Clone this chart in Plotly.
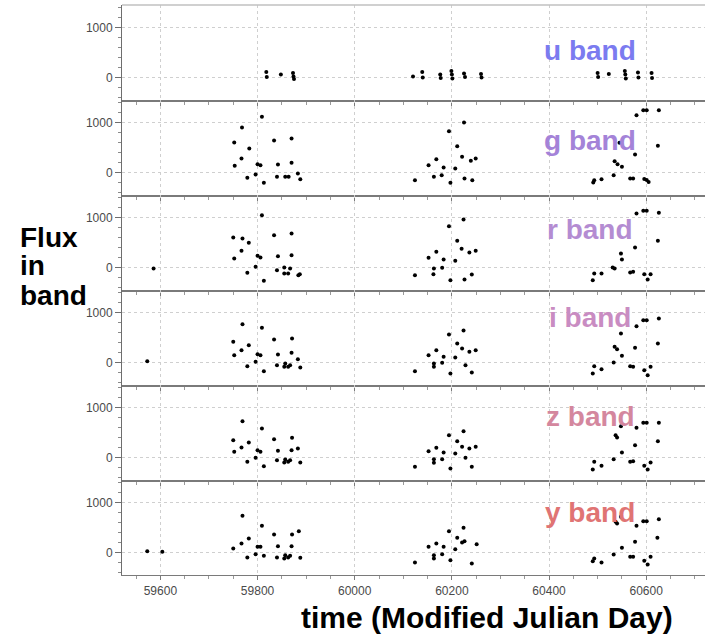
import plotly.graph_objects as go
from plotly.subplots import make_subplots

# Light-curve samples per LSST band: observation time (MJD) and flux
bands = ["u", "g", "r", "i", "z", "y"]
band_colors = ["#7b7bf0", "#a483d8", "#b48cd2", "#c98cc2", "#d4879e", "#e07474"]

u_mjd = [59818, 59819, 59848, 59873, 59874, 59875, 60120, 60139, 60140, 60176,
         60177, 60199, 60200, 60201, 60225, 60227, 60260, 60261, 60500, 60501,
         60523, 60556, 60557, 60558, 60583, 60584, 60611, 60612]
u_flux = [110, 10, 60, 90, 20, -30, 20, 110, 0, 60,
          -10, 130, 60, -20, 80, 10, 70, 0, 90, 10,
          70, 130, 60, -20, 100, 0, 90, -10]

g_mjd = [59752, 59768, 59783, 59767, 59753, 59779, 59796, 59800, 59806, 59809,
         59813, 59834, 59840, 59842, 59857, 59864, 59870, 59870, 59883, 59888,
         60124, 60152, 60163, 60168, 60179, 60183, 60194, 60197, 60207, 60211,
         60221, 60225, 60226, 60239, 60242, 60249,
         60491, 60493, 60508, 60533, 60535, 60541, 60550, 60545, 60567, 60573,
         60577, 60580, 60594, 60601, 60596, 60601, 60605, 60624, 60626]
g_flux = [600, 900, 480, 280, 133, -107, -40, 167, 147, 1113,
          -207, 640, -87, 160, -87, -87, 680, 193, -20, -133,
          -153, 147, -87, 267, -53, 100, 827, -207, 80, 527,
          313, 1000, -120, 233, -153, 280,
          -200, -153, -133, -53, 227, 167, 113, 593, -120, -120,
          360, 1147, 1247, 1247, -130, -150, -190, 533, 1247]

r_mjd = [59586,
         59750, 59769, 59782, 59767, 59752, 59779, 59796, 59800, 59806, 59809,
         59813, 59834, 59840, 59842, 59855, 59855, 59863, 59867, 59870, 59870,
         59884, 59887,
         60124, 60152, 60163, 60162, 60168, 60180, 60183, 60194, 60197, 60207,
         60211, 60220, 60224, 60226, 60236, 60241, 60249,
         60490, 60493, 60508, 60531, 60535, 60548, 60550, 60567, 60573, 60577,
         60580, 60594, 60601, 60596, 60603, 60609, 60624, 60626]
r_flux = [-20,
          600, 580, 493, 333, 180, -107, 13, 233, 200, 1047,
          -267, 647, -53, 227, 0, -120, -120, -20, 680, 247,
          -153, -133,
          -153, 193, -20, -133, 313, -7, 160, 827, -253, 133,
          533, 373, 960, -240, 300, -140, 333,
          -253, -120, -120, 0, -20, 280, 160, -100, -87, 400,
          1080, 1133, 1133, -133, -240, -133, 533, 1093]

i_mjd = [59573,
         59750, 59769, 59782, 59767, 59752, 59779, 59796, 59800, 59806, 59809,
         59813, 59834, 59840, 59842, 59857, 59855, 59863, 59867, 59871, 59870,
         59883, 59888,
         60124, 60152, 60163, 60163, 60168, 60180, 60183, 60194, 60197, 60207,
         60211, 60221, 60224, 60228, 60236, 60241, 60249,
         60490, 60493, 60508, 60533, 60535, 60540, 60548, 60550, 60567, 60573,
         60577, 60580, 60594, 60601, 60596, 60603, 60609, 60624, 60626]
i_flux = [27,
          413, 767, 347, 247, 147, -73, 13, 167, 147, 693,
          -173, 460, -53, 160, -20, -87, -87, -53, 480, 193,
          67, -100,
          -173, 147, -87, -20, 247, -7, 113, 560, -220, 100,
          380, 280, 640, -53, 213, -200, 247,
          -220, -73, -133, 0, 313, 267, 580, 133, -73, -87,
          293, 727, 847, 847, -153, -253, -87, 380, 880]

z_mjd = [59750, 59769, 59782, 59767, 59752, 59779, 59796, 59800, 59806, 59809,
         59813, 59834, 59840, 59842, 59857, 59855, 59863, 59867, 59871, 59870,
         59883, 59888,
         60124, 60152, 60163, 60163, 60168, 60180, 60183, 60194, 60197, 60207,
         60211, 60221, 60224, 60228, 60236, 60241, 60249,
         60490, 60493, 60508, 60533, 60537, 60540, 60548, 60550, 60567, 60573,
         60577, 60580, 60594, 60601, 60596, 60603, 60609, 60624, 60626]
z_flux = [347, 727, 300, 200, 113, -87, -7, 147, 113, 580,
          -173, 367, -53, 133, -40, -100, -87, -53, 393, 147,
          180, -100,
          -187, 127, -107, -33, 193, -33, 100, 447, -220, 80,
          327, 213, 527, -7, 180, -187, 213,
          -240, -87, -167, -33, 447, 400, 627, 100, -87, -73,
          247, 593, 693, 693, -167, -240, -100, 327, 693]

y_mjd = [59573, 59604,
         59750, 59769, 59782, 59767, 59779, 59796, 59800, 59806, 59809, 59813,
         59834, 59840, 59842, 59857, 59855, 59863, 59867, 59871, 59870, 59885,
         59888,
         60124, 60152, 60163, 60163, 60168, 60180, 60183, 60194, 60197, 60207,
         60211, 60221, 60224, 60226, 60241, 60251,
         60490, 60493, 60508, 60533, 60537, 60540, 60548, 60550, 60567, 60573,
         60580, 60577, 60594, 60601, 60596, 60603, 60609, 60623, 60626]
y_flux = [27, 13,
          80, 733, 280, 180, -100, -33, 113, 113, 533, -67,
          360, -100, 127, -53, -120, -100, -67, 360, 127, 427,
          -107,
          -200, 113, -120, -53, 180, -33, 113, 427, -153, 67,
          293, 200, 493, 227, -220, 167,
          -173, -120, -200, -40, 613, 580, 713, 93, -87, -87,
          533, 213, 627, 627, -167, -240, -87, 293, 667]

series = [(u_mjd, u_flux), (g_mjd, g_flux), (r_mjd, r_flux),
          (i_mjd, i_flux), (z_mjd, z_flux), (y_mjd, y_flux)]

W, H = 705, 642
x_range = [59521, 60721]
y_range = [-450, 1450]
panel_top, panel_h = 5, 95       # pixel layout of the stacked panels
left_px = 122


def fy(py):
    return 1 - py / H


def fx(px):
    return px / W


fig = make_subplots(rows=6, cols=1, shared_xaxes=False, vertical_spacing=0)

font_fam = "Liberation Sans, Arial, Helvetica, sans-serif"
grid_dash = "3px,3px"
grid_color = "#cfcfcf"

for k, (mjd, flux) in enumerate(series):
    row = k + 1
    fig.add_trace(
        go.Scatter(x=mjd, y=flux, mode="markers",
                   marker=dict(color="black", size=4, symbol="circle"),
                   showlegend=False, hoverinfo="x+y"),
        row=row, col=1)

    top = panel_top + panel_h * k
    bot = top + panel_h
    last = (k == len(series) - 1)
    xa = "xaxis" if k == 0 else f"xaxis{row}"
    ya = "yaxis" if k == 0 else f"yaxis{row}"

    fig.layout[xa].update(
        domain=[fx(left_px), 1.0], range=x_range, anchor="y" if k == 0 else f"y{row}",
        showline=True, linecolor="#7a7a7a", linewidth=2 if not last else 1.2,
        ticks="outside", ticklen=4, tickwidth=1, tickcolor="#7a7a7a",
        tick0=0, dtick=200, tickformat="d",
        minor=dict(dtick=50, ticks="outside", ticklen=3, tickcolor="#999999", showgrid=False),
        showgrid=True, gridcolor=grid_color, griddash=grid_dash, gridwidth=1,
        zeroline=False, showticklabels=last,
        tickfont=dict(family=font_fam, size=12, color="#4a4a4a"),
    )
    fig.layout[ya].update(
        domain=[fy(bot), fy(top)], range=y_range,
        showline=True, linecolor="#6e6e6e", linewidth=1,
        ticks="outside", ticklen=6, tickwidth=1, tickcolor="#6e6e6e",
        tickvals=[0, 1000], ticktext=["0", "1000"],
        minor=dict(dtick=200, ticks="outside", ticklen=3, tickcolor="#8a8a8a", showgrid=False),
        showgrid=True, gridcolor=grid_color, griddash=grid_dash, gridwidth=1,
        zeroline=False,
        tickfont=dict(family=font_fam, size=12, color="#4a4a4a"),
    )

    # band name inside each panel
    label_y = [50, 140, 230, 317, 416, 512][k]
    fig.add_annotation(
        xref="paper", yref="paper", x=fx(590), y=fy(label_y),
        xanchor="center", yanchor="middle", showarrow=False,
        text=f"<b>{bands[k]} band</b>",
        font=dict(family=font_fam, size=28, color=band_colors[k]),
    )

# thin frame line along the top of the first panel
fig.add_shape(type="line", xref="paper", yref="paper",
              x0=fx(left_px), x1=1.0, y0=fy(panel_top), y1=fy(panel_top),
              line=dict(color="#c0c0c0", width=1.5))

# y-axis title as three stacked words
for word, py in [("Flux", 237), ("in", 266), ("band", 295)]:
    fig.add_annotation(
        xref="paper", yref="paper", x=fx(18), y=fy(py),
        xanchor="left", yanchor="middle", showarrow=False,
        text=f"<b>{word}</b>",
        font=dict(family=font_fam, size=28, color="black"),
    )

# x-axis title
fig.add_annotation(
    xref="paper", yref="paper", x=fx(487), y=fy(617),
    xanchor="center", yanchor="middle", showarrow=False,
    text="<b>time (Modified Julian Day)</b>",
    font=dict(family=font_fam, size=30, color="black"),
)

fig.update_layout(
    width=W, height=H,
    margin=dict(l=0, r=0, t=0, b=0),
    paper_bgcolor="white", plot_bgcolor="white",
    showlegend=False,
)

fig.write_html("out.html")
